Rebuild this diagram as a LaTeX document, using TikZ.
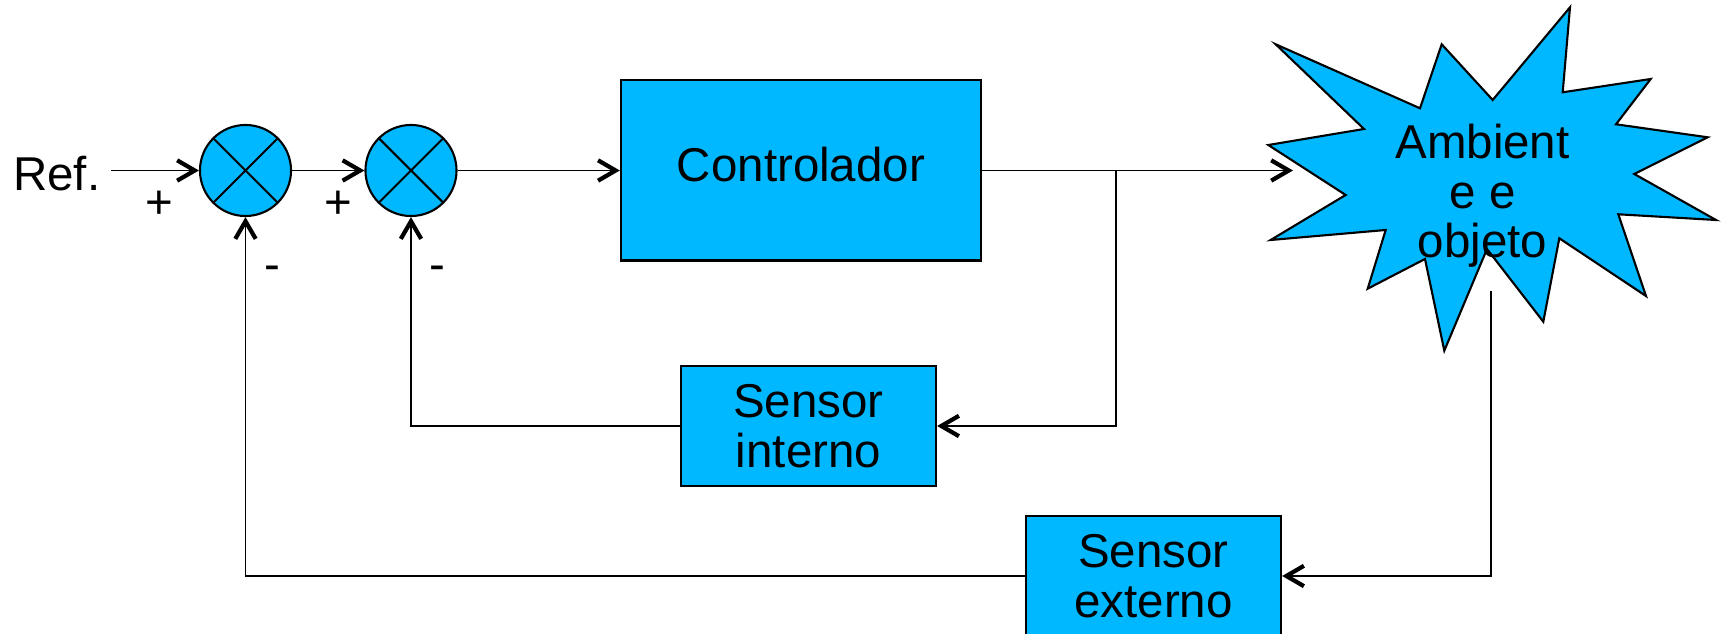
\documentclass[tikz,border=0pt]{standalone}
\usepackage{fontspec}
\setmainfont{Liberation Sans}
\usetikzlibrary{arrows.meta}
\definecolor{celeste}{RGB}{0,184,255}

\begin{document}
\begin{tikzpicture}[x=0.01cm,y=-0.01cm,
	font=\fontsize{13.5}{14.2}\selectfont,
	>={Straight Barb[length=5pt,width=5.8pt,line width=1.2pt]},
	linea/.style={line width=0.4pt},
	bloque/.style={draw,line width=0.6pt,fill=celeste,align=center,inner sep=0pt},
	suma/.style={draw,line width=0.6pt,fill=celeste,circle,minimum size=0.91cm,inner sep=0pt,
		path picture={\draw[line width=0.6pt]
			(path picture bounding box.north west) -- (path picture bounding box.south east)
			(path picture bounding box.north east) -- (path picture bounding box.south west);}},
	signo/.style={inner sep=0pt}]
	\useasboundingbox (0,0) rectangle (1723,634);
	% sumadores
	\node[suma] (s1) at (245.5,170.5) {};
	\node[suma] (s2) at (411,170.5) {};
	\node[anchor=base east,inner xsep=2.85pt,inner ysep=0pt] (ref) at (111,190.7) {Ref.};
	\node[signo] (p1) at (159,205) {+};
	\node[signo] (p2) at (338.7,205) {+};
	\node[signo] (m1) at (272.7,273) {-};
	\node[signo] (m2) at (437.3,273) {-};
	% bloques
	\node[bloque,minimum width=3.6cm,minimum height=1.8cm,text depth=3.5pt] (ctrl) at (801,170.5) {Controlador};
	\node[bloque,minimum width=2.55cm,minimum height=1.2cm] (si) at (808.5,426) {Sensor\\interno};
	\node[bloque,minimum width=2.55cm,minimum height=1.2cm] (se) at (1153.5,576) {Sensor\\externo};
	% ambiente
	\draw[fill=celeste,line width=0.6pt] (1275.7,44.3) -- (1420,108.3) -- (1441.7,44.3)
		-- (1492.7,100) -- (1570,7.3) -- (1562.7,92.3) -- (1650.7,79) -- (1616,124.3)
		-- (1707.7,137.3) -- (1634.3,174) -- (1716,220) -- (1618.3,214.3) -- (1646,296)
		-- (1559.3,238.3) -- (1543.3,321.7) -- (1487,249) -- (1444.3,350.7) -- (1425,259)
		-- (1367.7,288.7) -- (1385.7,230) -- (1270.7,240) -- (1345.7,195) -- (1268.3,145)
		-- (1364,129) -- cycle;
	\node[align=center,anchor=base,inner sep=0pt] (amb) at (1482.5,258) {Ambient\\e e\\objeto};
	\coordinate (ambin) at (1293,170.5);
	\coordinate (ambout) at (1491,291);
	\coordinate (rama) at (1116,170.5);
	% conexiones
	\draw[linea,->] (ref.east |- s1) -- (s1);
	\draw[linea,->] (s1) -- (s2);
	\draw[linea,->] (s2) -- (ctrl);
	\draw[linea,->] (ctrl.east) -- (ambin);
	\draw[linea,->] (rama) |- (si);
	\draw[linea,->] (si) -| (s2);
	\draw[linea,->] (ambout) |- (se);
	\draw[linea,->] (se) -| (s1);
\end{tikzpicture}
\end{document}
